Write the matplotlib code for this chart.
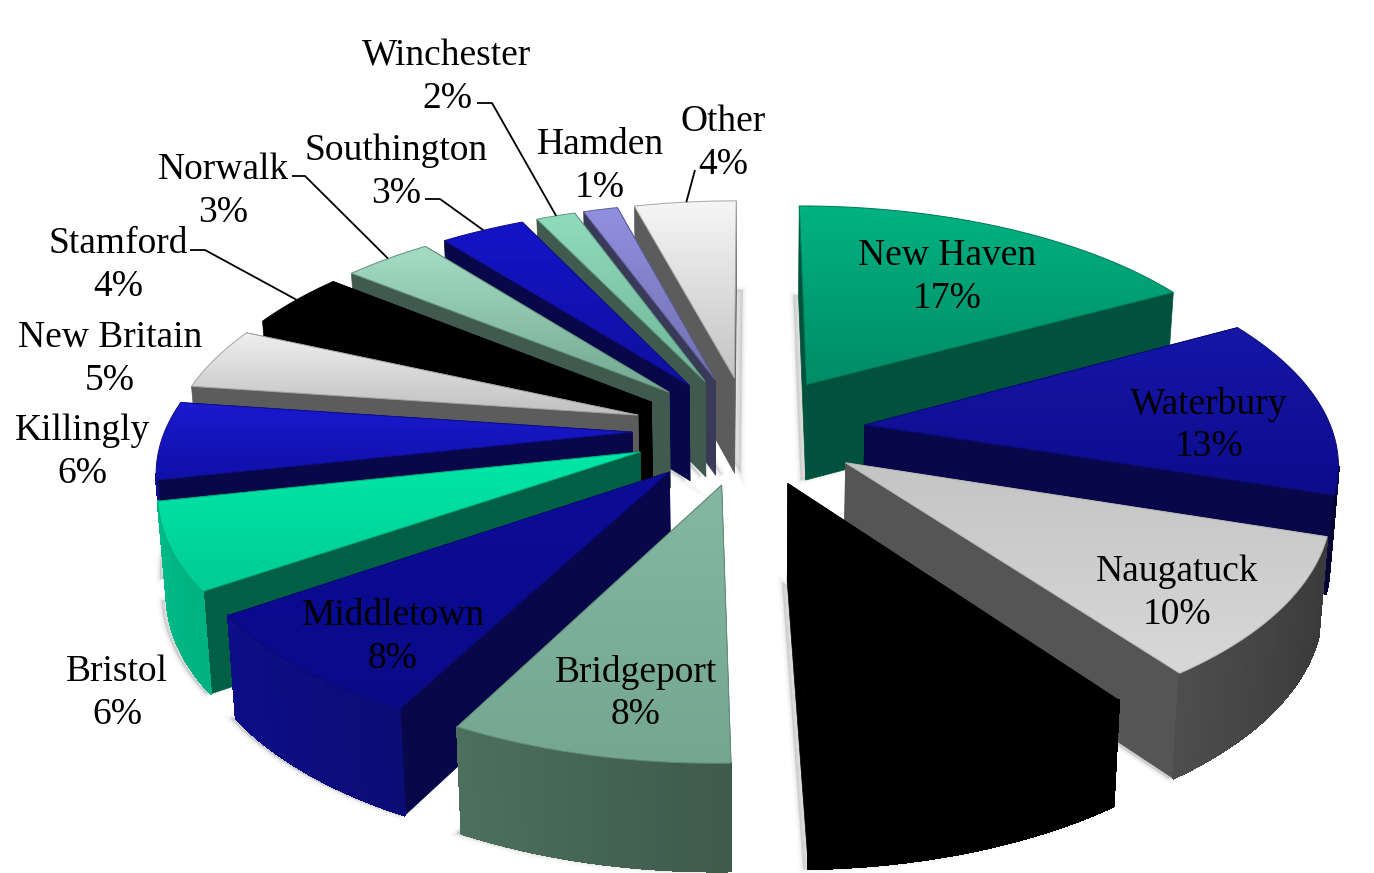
"""Exploded 3D pie of shares by town, drawn with perspective on a pixel axes."""
import numpy as np
import matplotlib.pyplot as plt
from matplotlib.patches import Polygon
from matplotlib.collections import PolyCollection

plt.rcParams["font.family"] = ["Liberation Serif", "DejaVu Serif"]

towns = ["New Haven", "Waterbury", "Naugatuck", "", "Bridgeport", "Middletown", "Bristol",
         "Killingly", "New Britain", "Stamford", "Norwalk", "Southington", "Winchester",
         "Hamden", "Other"]
# printed percentages
percents = [17, 13, 10, 10, 8, 8, 6, 6, 5, 4, 3, 3, 2, 1, 4]
# slice sizes, unrounded
shares = [17, 13, 10, 9.6, 8.05, 7.75, 6.2, 5.6, 4.5, 4.1, 3.6, 3.45, 1.6, 1.4, 4.15]

top_light = ["#00b282", "#1616a8", "#c4c4c4", "#000000", "#84b8a2", "#0c0c98", "#00e8a8",
             "#1a1ad0", "#efefef", "#000000", "#a4dcc4", "#1414c8", "#90dcbc", "#9090e0", "#f6f6f6"]
top_dark = ["#008c66", "#0c0c8c", "#d8d8d8", "#000000", "#74a690", "#0a0a88", "#00cc94",
            "#1010a8", "#c0c0c0", "#000000", "#74a890", "#1010a0", "#70b498", "#7070b0", "#c4c4c4"]
side_base = ["#00b282", "#1010a0", "#b8b8b8", "#000000", "#68987f", "#1010a0", "#00d098",
             "#1010a0", "#c8c8c8", "#000000", "#8cc4ac", "#1010a0", "#8cc4ac", "#7c7cc0", "#c8c8c8"]

# label centre (x, y of the first line), then leader elbow if there is one
label_xy = [(947, 252), (1209, 400), (1177, 568), None, (636, 668), (393, 612), (117, 668),
            (82, 427), (110, 334), (118, 240), (223, 166), (396, 147), (447, 52), (600, 141), (723, 118)]
elbows = {9: [(190, 250), (205, 250)], 10: [(292, 176), (305, 176)],
          11: [(425, 199), (440, 199)], 12: [(477, 103), (492, 103)], 14: [(695, 170)]}

CX, CY, AX, KY, PERSP, EXPLODE, WALL = 749.0, 430.0, 467.0, 218.0, 0.15, 0.25, 97.0


def project(x, y):
    s = 1.0 / (1.0 - PERSP * y)
    return CX + AX * x * s, CY + KY * y * s, s


def wall_drop(px, s):
    h = WALL * (0.5 + 0.5 * s)
    return CX + (px - CX) * 0.985, h


def rgb(hexstr):
    return np.array([int(hexstr[i:i + 2], 16) / 255 for i in (1, 3, 5)])


fig = plt.figure(figsize=(13.74, 8.73), dpi=100)
ax = fig.add_axes([0, 0, 1, 1])
ax.set_xlim(0, 1374)
ax.set_ylim(873, 0)
ax.axis("off")
ax.set_autoscale_on(False)

edges = np.cumsum([0] + shares) / sum(shares) * 2 * np.pi
slices = []
for i in range(len(shares)):
    a0, a1 = edges[i], edges[i + 1]
    mid = (a0 + a1) / 2
    ox, oy = EXPLODE * np.sin(mid), -EXPLODE * np.cos(mid)
    th = np.linspace(a0, a1, 40)
    gx = ox + np.sin(th)
    gy = oy - np.cos(th)
    px, py, ps = project(gx, gy)
    ax0, ay0, as0 = project(ox, oy)
    slices.append(dict(i=i, mid=mid, th=th, px=px, py=py, ps=ps, apex=(ax0, ay0, as0)))

# soft shadow under each slice
for sl in slices:
    bx, h = wall_drop(sl["px"], sl["ps"])
    by = sl["py"] + h
    ax1, h1 = wall_drop(sl["apex"][0], sl["apex"][2])
    poly = np.column_stack([np.r_[ax1, bx], np.r_[sl["apex"][1] + h1, by]])
    shift = 6 if np.pi * 1.9 < sl["mid"] else -5
    poly = poly + [shift, 0]
    for lw, alpha in [(6, 0.05), (3, 0.08), (1, 0.12)]:
        ax.add_patch(Polygon(poly, closed=True, fc="#808080", ec="#808080", lw=lw, alpha=alpha, zorder=1))

z = 2
for sl in sorted(slices, key=lambda s: -np.cos(s["mid"])):
    i = sl["i"]
    base = rgb(side_base[i])
    aptx, apty, aps = sl["apex"]
    px, py, ps = sl["px"], sl["py"], sl["ps"]
    abx, ah = wall_drop(aptx, aps)

    # radial walls first, the one further back goes first
    walls = []
    for k in (0, -1):
        bx, h = wall_drop(px[k], ps[k])
        quad = [(aptx, apty), (px[k], py[k]), (bx, py[k] + h), (abx, apty + ah)]
        walls.append((py[k], quad))
    walls.sort(key=lambda w: w[0])
    dark = base * 0.46
    for _, quad in walls:
        ax.add_patch(Polygon(quad, closed=True, fc=dark, ec=dark, lw=0.5, zorder=z))
    z += 1

    # outer wall, only where the arc runs right to left (it faces the viewer there)
    quads, cols = [], []
    bx, h = wall_drop(px, ps)
    for k in range(len(px) - 1):
        if px[k + 1] >= px[k]:
            continue
        quads.append([(px[k], py[k]), (px[k + 1], py[k + 1]),
                      (bx[k + 1], py[k + 1] + h[k + 1]), (bx[k], py[k] + h[k])])
        f = 0.5 - 0.5 * np.sin(sl["th"][k])
        cols.append(np.clip(base * (0.3 + 0.6 * f), 0, 1))
    if quads:
        ax.add_collection(PolyCollection(quads, facecolors=cols, edgecolors=cols, linewidths=1.0,
                                         antialiaseds=False, zorder=z))
    z += 1

    # top face with a vertical gradient
    outline = np.column_stack([np.r_[aptx, px], np.r_[apty, py]])
    patch = Polygon(outline, closed=True, fc="none", ec="none", zorder=z)
    ax.add_patch(patch)
    grad = np.linspace(0, 1, 128)[:, None, None]
    img = rgb(top_light[i]) * (1 - grad) + rgb(top_dark[i]) * grad
    x0, x1, y0, y1 = outline[:, 0].min(), outline[:, 0].max(), outline[:, 1].min(), outline[:, 1].max()
    im = ax.imshow(img, extent=(x0, x1, y1, y0), aspect="auto", zorder=z, interpolation="bilinear")
    im.set_clip_path(patch)
    z += 1
    edge = rgb(top_dark[i]) * 0.85
    ax.add_patch(Polygon(outline, closed=True, fc="none", ec=edge, lw=0.7, zorder=z))
    z += 1

for i, name in enumerate(towns):
    if label_xy[i] is None:
        continue
    x, y = label_xy[i]
    ax.text(x, y + 4, name, ha="center", va="center", fontsize=27, color="black", zorder=500)
    ax.text(x, y + 47, f"{percents[i]}%", ha="center", va="center", fontsize=27, color="black", zorder=500)

for i, pts in elbows.items():
    sl = slices[i]
    k = len(sl["px"]) // 2
    xs = [p[0] for p in pts] + [sl["px"][k]]
    ys = [p[1] for p in pts] + [sl["py"][k]]
    ax.plot(xs, ys, color="black", lw=1.3, zorder=400, solid_capstyle="butt")

fig.savefig("out.png", dpi=100, facecolor="white")
